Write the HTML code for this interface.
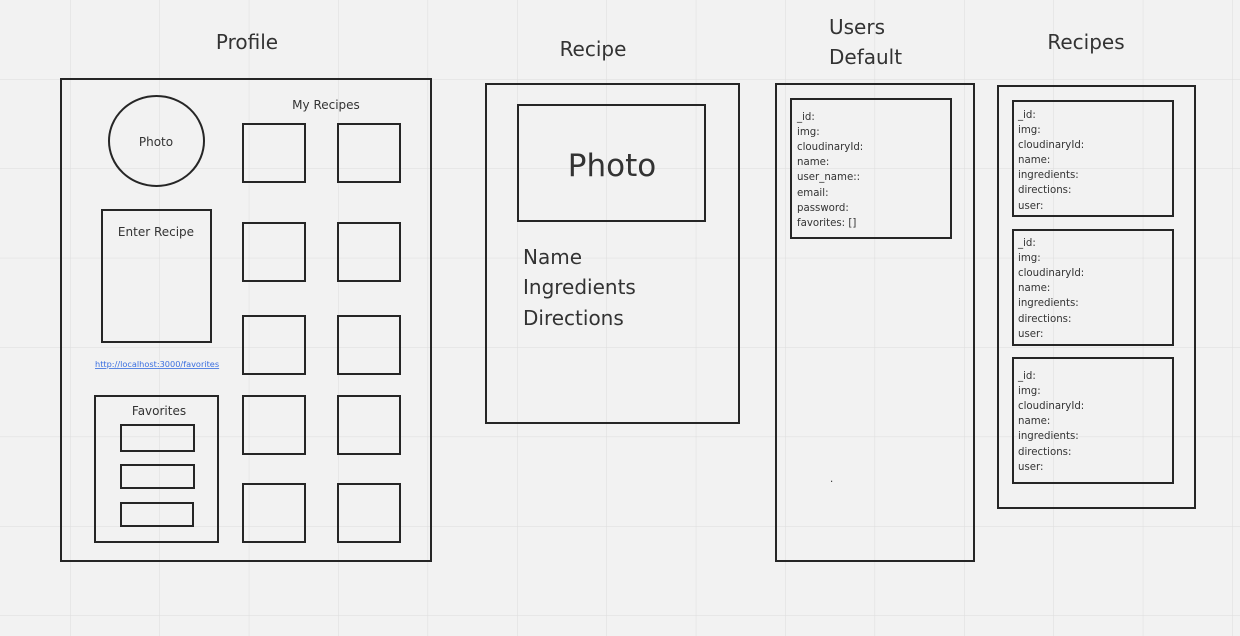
<!DOCTYPE html>
<html><head><meta charset="utf-8"><style>
html,body{margin:0;padding:0;background:#f2f2f2}
svg{display:block}
text{font-family:"DejaVu Sans","Liberation Sans",sans-serif;fill:#333}
</style></head><body>
<svg width="1240" height="636" viewBox="0 0 1240 636" xmlns="http://www.w3.org/2000/svg">
<defs>
<pattern id="g" x="70" y="79" width="89.4" height="89.4" patternUnits="userSpaceOnUse">
<path d="M0 0V89.4M0 0H89.4" stroke="#dcdcdc" stroke-width="1" fill="none"/>
</pattern>
</defs>
<rect width="1240" height="636" fill="#f2f2f2"/>
<rect width="1240" height="636" fill="url(#g)"/>
<g fill="none" stroke="#262626" stroke-width="2">
<rect x="61" y="79" width="370" height="482"/>
<ellipse cx="156.5" cy="141" rx="47.5" ry="45"/>
<rect x="243" y="124" width="62" height="58"/><rect x="338" y="124" width="62" height="58"/>
<rect x="243" y="223" width="62" height="58"/><rect x="338" y="223" width="62" height="58"/>
<rect x="243" y="316" width="62" height="58"/><rect x="338" y="316" width="62" height="58"/>
<rect x="243" y="396" width="62" height="58"/><rect x="338" y="396" width="62" height="58"/>
<rect x="243" y="484" width="62" height="58"/><rect x="338" y="484" width="62" height="58"/>
<rect x="102" y="210" width="109" height="132"/>
<rect x="95" y="396" width="123" height="146"/>
<rect x="121" y="425" width="73" height="26"/>
<rect x="121" y="465" width="73" height="23"/>
<rect x="121" y="503" width="72" height="23"/>
<rect x="486" y="84" width="253" height="339"/>
<rect x="518" y="105" width="187" height="116"/>
<rect x="776" y="84" width="198" height="477"/>
<rect x="791" y="99" width="160" height="139"/>
<rect x="998" y="86" width="197" height="422"/>
<rect x="1013" y="101" width="160" height="115"/>
<rect x="1013" y="230" width="160" height="115"/>
<rect x="1013" y="358" width="160" height="125"/>
</g>
<text x="247" y="49" font-size="20" text-anchor="middle">Profile</text>
<text x="326" y="109" font-size="12" text-anchor="middle">My Recipes</text>
<text x="156" y="146" font-size="12" text-anchor="middle">Photo</text>
<text x="156" y="236" font-size="12" text-anchor="middle">Enter Recipe</text>
<text x="95" y="367" font-size="8.2" style="fill:#3a6fe0" text-decoration="underline">http://localhost:3000/favorites</text>
<text x="159" y="415" font-size="12" text-anchor="middle">Favorites</text>
<text x="593" y="56" font-size="20" text-anchor="middle">Recipe</text>
<text x="612" y="176" font-size="31" text-anchor="middle">Photo</text>
<text x="523" y="264" font-size="20">Name</text>
<text x="523" y="294" font-size="20">Ingredients</text>
<text x="523" y="325" font-size="20">Directions</text>
<text x="829" y="34" font-size="20">Users</text>
<text x="829" y="64" font-size="20">Default</text>
<text x="1086" y="49" font-size="20" text-anchor="middle">Recipes</text>
<g font-size="10.2">
<text x="797" y="120">_id:</text>
<text x="797" y="135">img:</text>
<text x="797" y="150">cloudinaryId:</text>
<text x="797" y="165">name:</text>
<text x="797" y="180">user_name::</text>
<text x="797" y="196">email:</text>
<text x="797" y="211">password:</text>
<text x="797" y="226">favorites: []</text>
<text x="830" y="482">.</text>
<text x="1018" y="118">_id:</text>
<text x="1018" y="133">img:</text>
<text x="1018" y="148">cloudinaryId:</text>
<text x="1018" y="163">name:</text>
<text x="1018" y="178">ingredients:</text>
<text x="1018" y="193">directions:</text>
<text x="1018" y="209">user:</text>
<text x="1018" y="246">_id:</text>
<text x="1018" y="261">img:</text>
<text x="1018" y="276">cloudinaryId:</text>
<text x="1018" y="291">name:</text>
<text x="1018" y="306">ingredients:</text>
<text x="1018" y="322">directions:</text>
<text x="1018" y="337">user:</text>
<text x="1018" y="379">_id:</text>
<text x="1018" y="394">img:</text>
<text x="1018" y="409">cloudinaryId:</text>
<text x="1018" y="424">name:</text>
<text x="1018" y="439">ingredients:</text>
<text x="1018" y="455">directions:</text>
<text x="1018" y="470">user:</text>
</g>
</svg>
</body></html>
